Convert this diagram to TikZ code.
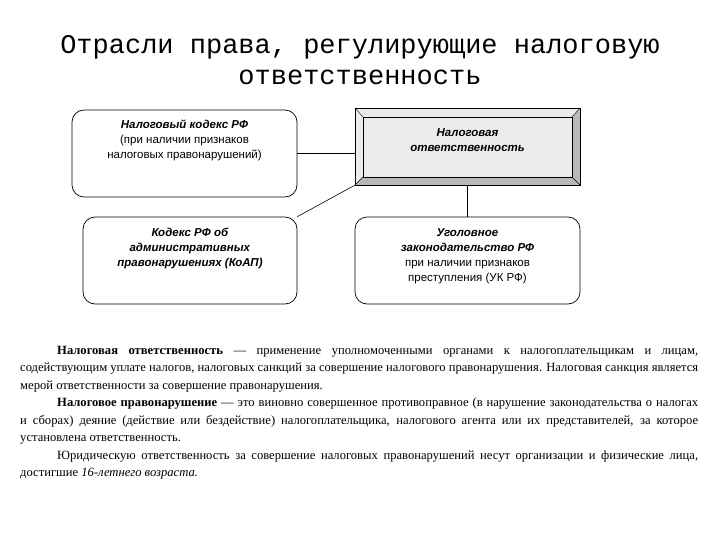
\documentclass[tikz,border=0pt]{standalone}
\usepackage{fontspec}
\setmainfont{Liberation Serif}
\newfontfamily\arialf{Liberation Sans}
\newfontfamily\courf{Liberation Mono}
\begin{document}
\begin{tikzpicture}[x=1pt,y=-1pt,
  rbox/.style={draw,rounded corners=12pt,line width=0.7pt,align=center,font=\arialf\fontsize{11.5}{14}\selectfont,inner sep=0pt},
  conn/.style={draw,line width=0.6pt}]
\useasboundingbox (0,0) rectangle (720,540);
\node[font=\courf\fontsize{27}{31}\selectfont,align=center] (title) at (360,60) {Отрасли права, регулирующие налоговую\\ответственность};
% box1
\node[rbox,minimum width=225pt,minimum height=87pt] (b1) at (184.5,153.5) {};
\node[font=\arialf\fontsize{11.5}{15}\selectfont,align=center,anchor=north] (t1) at (184.5,116) {\textbf{\textit{Налоговый кодекс РФ}}\\(при наличии признаков\\налоговых правонарушений)};
% box2 beveled
\fill[gray!15] (355,108) rectangle (580,185);
\fill[gray!55] (580,108) -- (572,117) -- (572,177) -- (363,177) -- (355,185) -- (580,185) -- cycle;
\draw[line width=0.6pt] (355,108) rectangle (580,185);
\draw[line width=0.6pt] (363,117) rectangle (572,177);
\draw[line width=0.4pt] (355,108) -- (363,117) (580,108) -- (572,117) (355,185) -- (363,177) (580,185) -- (572,177);
\node[draw=none,minimum width=225pt,minimum height=77pt] (b2) at (467.5,146.5) {};
\node[font=\arialf\fontsize{11.5}{15}\selectfont,align=center] (t2) at (467.5,140) {\textbf{\textit{Налоговая}}\\\textbf{\textit{ответственность}}};
% box3
\node[rbox,minimum width=214pt,minimum height=87pt] (b3) at (190,260.5) {};
\node[font=\arialf\fontsize{11.5}{15}\selectfont,align=center,anchor=north] (t3) at (190,225) {\textbf{\textit{Кодекс РФ об}}\\\textbf{\textit{административных}}\\\textbf{\textit{правонарушениях (КоАП)}}};
% box4
\node[rbox,minimum width=225pt,minimum height=87pt] (b4) at (467.5,260.5) {};
\node[font=\arialf\fontsize{11.5}{15}\selectfont,align=center,anchor=north] (t4) at (467.5,225) {\textbf{\textit{Уголовное}}\\\textbf{\textit{законодательство РФ}}\\при наличии признаков\\преступления (УК РФ)};
% connectors
\draw[conn] (b1.east) -- (b1.east -| b2.west);
\draw[conn] (b2.south west) -- (b3.north east);
\draw[conn] (b2.south) -- (b4.north);
% paragraph
\node[anchor=north west,inner sep=0pt,text width=678pt,align=justify,font=\fontsize{12.6}{17.5}\selectfont] (para) at (20,346) {%
\setlength{\parindent}{37pt}\indent
\textbf{Налоговая ответственность} — применение уполномоченными органами к налогоплательщикам и лицам, содействующим уплате налогов, налоговых санкций за совершение налогового правонарушения. Налоговая санкция является мерой ответственности за совершение правонарушения.\par
\textbf{Налоговое правонарушение} — это виновно совершенное противоправное (в~нарушение законодательства о налогах и сборах) деяние (действие или бездействие) налогоплательщика, налогового агента или их представителей, за которое установлена ответственность.\par
Юридическую ответственность за совершение налоговых правонарушений несут организации и физические лица, достигшие \textit{16-летнего возраста.}\par};
\end{tikzpicture}
\end{document}
